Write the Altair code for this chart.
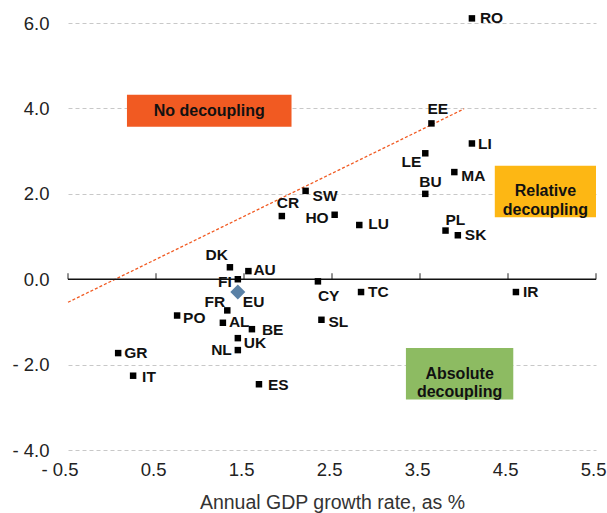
import altair as alt
import pandas as pd

# ---- data ----
countries = ["RO", "EE", "LI", "LE", "MA", "BU", "SW", "HO", "LU", "PL", "SK", "CR",
             "DK", "AU", "FI", "CY", "TC", "FR", "PO", "AL", "BE", "UK", "NL", "SL",
             "ES", "GR", "IT", "IR"]
gdp_growth = [4.09, 3.63, 4.09, 3.56, 3.89, 3.56, 2.20, 2.53, 2.81, 3.79, 3.93, 1.93,
              1.34, 1.55, 1.43, 2.34, 2.83, 1.31, 0.74, 1.26, 1.59, 1.43, 1.43, 2.38,
              1.67, 0.07, 0.24, 4.59]
change = [6.11, 3.65, 3.18, 2.95, 2.51, 2.00, 2.07, 1.51, 1.27, 1.14, 1.03, 1.48,
          0.28, 0.19, 0.00, -0.05, -0.30, -0.73, -0.85, -1.02, -1.17, -1.38, -1.66, -0.95,
          -2.46, -1.73, -2.26, -0.30]

eu_name = ["EU"]
eu_gdp = [1.43]
eu_change = [-0.30]

# label placement (style): alignment and pixel offsets
label_align = ["left", "left", "left", "right", "left", "left", "left", "right", "left", "left", "left", "left",
               "right", "left", "right", "left", "left", "right", "left", "left", "left", "left", "right", "left",
               "left", "left", "left", "left"]
label_dx = [8, -4, 6, -4, 7, -6, 7, -6, 9, 0, 7, -5,
            -2, 5, -6, 0, 7, -2, 6, 6, 10, 6, -6, 7,
            9, 6, 9, 7]
label_dy = [0, -14, 1, 9, 4, -12, 5, 3, -1, -11, 0, -13,
            -12, -1, 3, 15, 0, -8, 2, -1, 1, 5, 0, 2,
            1, 0, 1, 0]

line_x = [-0.5, 4.0]
line_y = [-0.54, 3.99]

x_ticks = [-0.5, 0.5, 1.5, 2.5, 3.5, 4.5, 5.5]
y_ticks = [-4, -2, 0, 2, 4, 6]

ann_text = ["No decoupling", "Relative\ndecoupling", "Absolute\ndecoupling"]
ann_x1 = [0.17, 4.35, 3.34]
ann_x2 = [2.04, 5.5, 4.56]
ann_y1 = [3.57, 1.45, -2.82]
ann_y2 = [4.32, 2.66, -1.61]
ann_color = ["#f15a22", "#fdb714", "#8dbb62"]

# ---- tables ----
pts = pd.DataFrame({"name": countries, "x": gdp_growth, "y": change,
                    "align": label_align, "dx": label_dx, "dy": label_dy})
eu = pd.DataFrame({"name": eu_name, "x": eu_gdp, "y": eu_change,
                   "align": ["left"], "dx": [5], "dy": [10]})
line_df = pd.DataFrame({"x": line_x, "y": line_y})
ann = pd.DataFrame({"text": ann_text, "x": ann_x1, "x2": ann_x2, "y": ann_y1, "y2": ann_y2,
                    "color": ann_color})
ann["xm"] = (ann["x"] + ann["x2"]) / 2
ann["ym"] = (ann["y"] + ann["y2"]) / 2
zero_df = pd.DataFrame({"x": [min(x_ticks)], "x2": [max(x_ticks)], "y": [0]})
tick_df = pd.DataFrame({"x": x_ticks, "y": [0] * len(x_ticks)})

FONT = "Liberation Sans"
xscale = alt.Scale(domain=[-0.5, 5.5], nice=False, zero=False)
yscale = alt.Scale(domain=[-4, 6.4], nice=False, zero=False)

label_expr = "datum.value < 0 ? '- ' + format(-datum.value, '.1f') : format(datum.value, '.1f')"

x_axis = alt.Axis(values=x_ticks, labelExpr=label_expr, domain=False, ticks=False, grid=False,
                  labelFont=FONT, labelFontSize=18.5, labelColor="#222222", labelAlign="right",
                  labelOffset=10, labelPadding=10, labelOverlap=False, labelBound=False, labelFlush=False,
                  title="Annual GDP growth rate, as %", titleFont=FONT, titleFontSize=19.5,
                  titleFontWeight="normal", titleColor="#333333", titlePadding=15)
y_axis = alt.Axis(values=y_ticks, labelExpr=label_expr, domain=False, ticks=False, grid=True,
                  gridDash=[4, 3], gridColor="#c8c8c8", gridWidth=1,
                  labelFont=FONT, labelFontSize=18.5, labelColor="#222222", labelPadding=19,
                  labelOverlap=False, labelBound=False, labelFlush=False, title=None)


def X(f="x"):
    return alt.X(f"{f}:Q", scale=xscale, axis=x_axis)


def Y(f="y"):
    return alt.Y(f"{f}:Q", scale=yscale, axis=y_axis)


dashed = alt.Chart(line_df).mark_line(color="#f15a22", strokeDash=[3, 2], strokeWidth=1.3).encode(
    x=X(), y=Y())

boxes = alt.Chart(ann).mark_rect().encode(
    x=X(), x2="x2:Q", y=Y(), y2="y2:Q", color=alt.Color("color:N", scale=None))

box_text = alt.Chart(ann).mark_text(font=FONT, fontSize=16, fontWeight="bold", color="#111111",
                                    lineBreak="\n", lineHeight=18.7, baseline="middle",
                                    align="center").encode(
    x=X("xm"), y=Y("ym"), text="text:N")

zero_rule = alt.Chart(zero_df).mark_rule(color="#111111", strokeWidth=1.3).encode(
    x=X(), x2="x2:Q", y=Y())

ticks = alt.Chart(tick_df).mark_tick(orient="vertical", size=6, thickness=1.3, color="#111111",
                                     yOffset=-3).encode(x=X(), y=Y())

squares = alt.Chart(pts).mark_point(shape="square", filled=True, size=42, color="#000000",
                                    opacity=1).encode(x=X(), y=Y())

diamond = alt.Chart(eu).mark_point(shape="diamond", filled=True, size=225, color="#5a81a6",
                                   opacity=1).encode(x=X(), y=Y())

labels = alt.Chart(pd.concat([pts, eu], ignore_index=True)).mark_text(
    font=FONT, fontSize=15.5, fontWeight="bold", color="#111111", baseline="middle",
    align=alt.expr("datum.align"), dx=alt.expr("datum.dx"), dy=alt.expr("datum.dy")
).encode(x=X(), y=Y(), text="name:N")

chart = alt.layer(
    dashed, boxes, box_text, zero_rule, ticks, squares, diamond, labels
).properties(
    width=528, height=444,
    autosize=alt.AutoSizeParams(type="none"),
    padding={"left": 68, "top": 6, "right": 11, "bottom": 63},
).configure_view(stroke=None)

chart.save("out.html", embed_options={"renderer": "svg", "actions": False})
